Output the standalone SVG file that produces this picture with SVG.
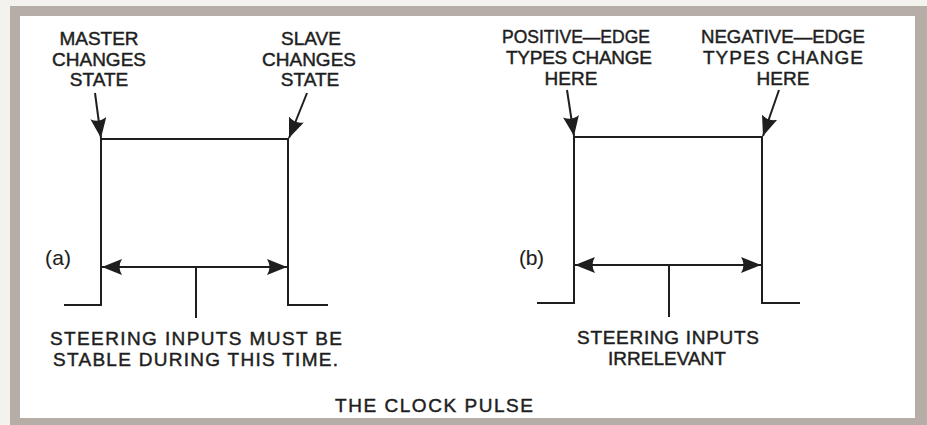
<svg xmlns="http://www.w3.org/2000/svg" width="927" height="425" viewBox="0 0 927 425">
<style>
.ln{stroke:#1e1e1e;stroke-width:2;fill:none}
.t{font-family:"Liberation Sans",Arial,sans-serif;font-size:19px;fill:#1e1e1e;stroke:#1e1e1e;stroke-width:0.45;text-anchor:middle}
.s{text-anchor:start}
.p{font-size:21px;stroke-width:0.1}
</style>
<defs>
<marker id="ah" markerWidth="20" markerHeight="16" refX="20" refY="8" orient="auto" markerUnits="userSpaceOnUse">
<path d="M0,0 L20,8 L0,16 Q5,8 0,0 Z" fill="#1e1e1e"/>
</marker>
</defs>
<rect x="0" y="0" width="927" height="425" fill="#f4f2ef"/>
<rect x="10" y="6" width="917" height="419" fill="#b6aea6"/>
<rect x="20" y="16" width="895" height="402" fill="#ffffff"/>

<g id="pulse-a">
<polyline class="ln" points="64,305 101,305 101,139 288,139 288,305 328,305"/>
</g>
<g id="pulse-b">
<polyline class="ln" points="537,303 574,303 574,137 762,137 762,303 800,303"/>
</g>

<g id="connectors">
<line class="ln" x1="95" y1="93" x2="101" y2="138" marker-end="url(#ah)"/>
<line class="ln" x1="307" y1="93" x2="289" y2="138" marker-end="url(#ah)"/>
<line class="ln" x1="196" y1="267" x2="102" y2="267" marker-end="url(#ah)"/>
<line class="ln" x1="196" y1="267" x2="287" y2="267" marker-end="url(#ah)"/>
<line class="ln" x1="196" y1="267" x2="196" y2="318"/>
<line class="ln" x1="567" y1="90" x2="574" y2="136" marker-end="url(#ah)"/>
<line class="ln" x1="779" y1="90" x2="763" y2="136" marker-end="url(#ah)"/>
<line class="ln" x1="669" y1="265" x2="575" y2="265" marker-end="url(#ah)"/>
<line class="ln" x1="669" y1="265" x2="761" y2="265" marker-end="url(#ah)"/>
<line class="ln" x1="669" y1="265" x2="669" y2="317"/>
</g>

<g id="label-master">
<text class="t" x="99" y="45">MASTER</text>
<text class="t" x="99" y="66">CHANGES</text>
<text class="t" x="99" y="86">STATE</text>
</g>
<g id="label-slave">
<text class="t" x="311" y="45">SLAVE</text>
<text class="t" x="309" y="66">CHANGES</text>
<text class="t" x="310" y="86">STATE</text>
</g>
<g id="label-a">
<text class="t s p" x="45" y="265" textLength="26" lengthAdjust="spacing">(a)</text>
</g>
<g id="label-steering-a">
<text class="t s" x="50" y="345" textLength="292" lengthAdjust="spacing">STEERING INPUTS MUST BE</text>
<text class="t s" x="53" y="366" textLength="285" lengthAdjust="spacing">STABLE DURING THIS TIME.</text>
</g>

<g id="label-positive">
<text class="t s" x="502" y="43" textLength="148" lengthAdjust="spacingAndGlyphs">POSITIVE—EDGE</text>
<text class="t s" x="506" y="64" textLength="146" lengthAdjust="spacing">TYPES CHANGE</text>
<text class="t" x="571" y="85">HERE</text>
</g>
<g id="label-negative">
<text class="t s" x="701" y="43" textLength="164" lengthAdjust="spacingAndGlyphs">NEGATIVE—EDGE</text>
<text class="t s" x="703" y="64" textLength="160" lengthAdjust="spacing">TYPES CHANGE</text>
<text class="t" x="783" y="85">HERE</text>
</g>
<g id="label-b">
<text class="t s p" x="519" y="265" textLength="25" lengthAdjust="spacing">(b)</text>
</g>
<g id="label-steering-b">
<text class="t s" x="577" y="344" textLength="182" lengthAdjust="spacing">STEERING INPUTS</text>
<text class="t" x="667" y="365">IRRELEVANT</text>
</g>

<g id="title">
<text class="t s" x="335" y="412" textLength="198" lengthAdjust="spacing">THE CLOCK PULSE</text>
</g>
</svg>
